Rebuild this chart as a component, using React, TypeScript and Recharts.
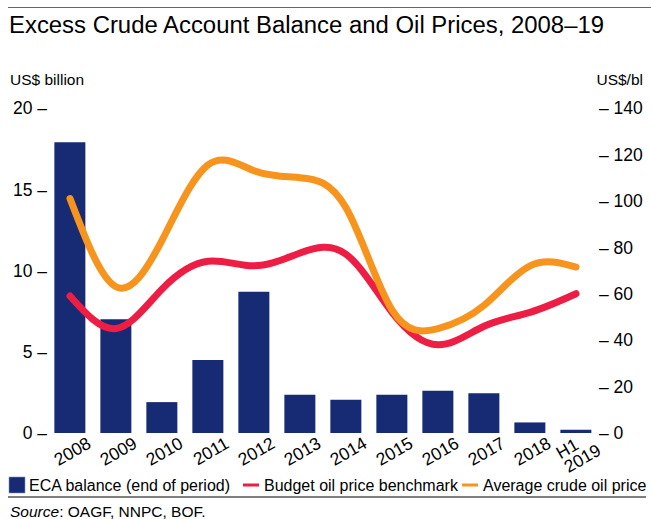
import { ComposedChart, Bar, Line, XAxis, YAxis } from "recharts";

const years = ["2008", "2009", "2010", "2011", "2012", "2013", "2014", "2015", "2016", "2017", "2018", "H1\n2019"];
// US$ billion, end of period
const ecaBalance = [17.9, 7.0, 1.9, 4.5, 8.7, 2.35, 2.05, 2.35, 2.6, 2.45, 0.65, 0.2];
// US$ per barrel
const budgetPrice = [59, 45, 62, 74, 72, 77.5, 77, 52, 38, 46, 52, 60];
const avgCrudePrice = [101, 63, 83, 115.5, 113, 110, 97, 53, 45, 55, 72, 71.5];

const leftTicks = [0, 5, 10, 15, 20];
const rightTicks = [0, 20, 40, 60, 80, 100, 120, 140];

const NAVY = "#172A74";
const RED = "#EE1D44";
const ORANGE = "#F7941E";
const FONT = "'Liberation Sans', Arial, Helvetica, sans-serif";

const data = years.map((year, i) => ({
  year,
  eca: ecaBalance[i],
  budget: budgetPrice[i],
  avg: avgCrudePrice[i],
}));

const legendItems = [
  { label: "ECA balance (end of period)", color: NAVY, kind: "box", x: 9 },
  { label: "Budget oil price benchmark", color: RED, kind: "dash", x: 243 },
  { label: "Average crude oil price", color: ORANGE, kind: "dash", x: 462 },
];

const LeftTick = ({ x, y, payload }: any) => (
  <text x={x} y={y} dy="0.36em" textAnchor="end" fontSize={17.5} fontFamily={FONT} fill="#000">
    {`${payload.value} –`}
  </text>
);

const RightTick = ({ x, y, payload }: any) => (
  <text x={x} y={y} dy="0.36em" textAnchor="start" fontSize={17.5} fontFamily={FONT} fill="#000">
    {`– ${payload.value}`}
  </text>
);

const YearTick = ({ x, y, payload }: any) => {
  const lines = String(payload.value).split("\n");
  const multi = lines.length > 1;
  return (
    <g transform={`translate(${x + 16},${y + 3}) rotate(-30)`}>
      {lines.map((ln, i) => (
        <text
          key={ln}
          x={multi ? -39 : 0}
          y={12.5 + (i - (lines.length - 1) / 2) * 16}
          textAnchor={multi ? "start" : "end"}
          fontSize={17.5}
          fontFamily={FONT}
          fill="#000"
        >
          {ln}
        </text>
      ))}
    </g>
  );
};

export default function App() {
  return (
    <div
      style={{
        position: "absolute",
        left: 0,
        top: 0,
        width: 651,
        height: 519,
        background: "#fff",
        fontFamily: FONT,
      }}
    >
      <ComposedChart
        width={651}
        height={519}
        data={data}
        margin={{ top: 108, right: 0, bottom: 0, left: 0 }}
        barCategoryGap="16%"
      >
        <XAxis
          dataKey="year"
          axisLine={false}
          tickLine={false}
          tickSize={0}
          tickMargin={0}
          interval={0}
          tick={<YearTick />}
          height={86}
        />
        <YAxis
          yAxisId="eca"
          orientation="left"
          width={47}
          domain={[0, 20]}
          ticks={leftTicks}
          axisLine={false}
          tickLine={false}
          tickSize={0}
          tickMargin={0}
          tick={<LeftTick />}
        />
        <YAxis
          yAxisId="price"
          orientation="right"
          width={52}
          domain={[0, 140]}
          ticks={rightTicks}
          axisLine={false}
          tickLine={false}
          tickSize={0}
          tickMargin={0}
          tick={<RightTick />}
        />
        <Bar yAxisId="eca" dataKey="eca" fill={NAVY} isAnimationActive={false} />
        <Line
          yAxisId="price"
          type="natural"
          dataKey="budget"
          stroke={RED}
          strokeWidth={7}
          strokeLinecap="round"
          strokeLinejoin="round"
          dot={false}
          activeDot={false}
          isAnimationActive={false}
        />
        <Line
          yAxisId="price"
          type="natural"
          dataKey="avg"
          stroke={ORANGE}
          strokeWidth={7}
          strokeLinecap="round"
          strokeLinejoin="round"
          dot={false}
          activeDot={false}
          isAnimationActive={false}
        />
      </ComposedChart>

      <svg
        width={651}
        height={519}
        style={{ position: "absolute", left: 0, top: 0, pointerEvents: "none" }}
        fontFamily={FONT}
      >
        <line x1={8} x2={651} y1={7.5} y2={7.5} stroke="#666" strokeWidth={1} />
        <text x={9} y={33} fontSize={23} textLength={595} lengthAdjust="spacingAndGlyphs" fill="#000">
          Excess Crude Account Balance and Oil Prices, 2008–19
        </text>
        <text x={10} y={85} fontSize={15.5} fill="#000">US$ billion</text>
        <text x={643} y={85} fontSize={15.5} textAnchor="end" fill="#000">US$/bl</text>

        {legendItems.map((it) =>
          <g key={it.label}>
            {it.kind === "box" ? (
              <rect x={it.x} y={477} width={16} height={16} fill={it.color} stroke="#8a93b5" strokeWidth={0.6} />
            ) : (
              <rect x={it.x} y={483.5} width={16} height={3} fill={it.color} />
            )}
            <text x={it.x + (it.kind === "box" ? 20 : 21)} y={491} fontSize={16} fill="#000">
              {it.label}
            </text>
          </g>
        )}

        <line x1={8} x2={646} y1={497} y2={497} stroke="#000" strokeWidth={1} />
        <text x={10} y={517} fontSize={15.5} fill="#000">
          <tspan fontStyle="italic">Source</tspan>: OAGF, NNPC, BOF.
        </text>
      </svg>
    </div>
  );
}
